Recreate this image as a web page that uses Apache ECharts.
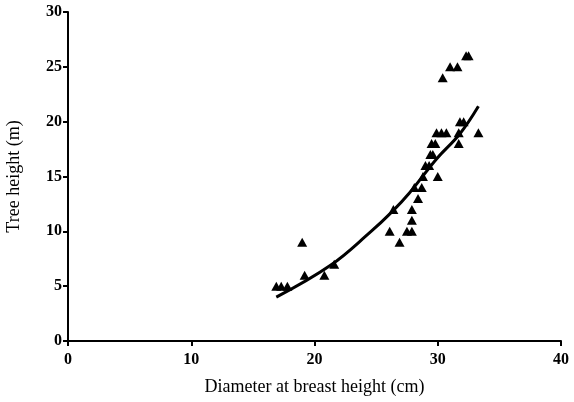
<!DOCTYPE html>
<html>
<head>
<meta charset="utf-8">
<script src="https://cdn.jsdelivr.net/npm/echarts@6/dist/echarts.min.js"></script>
<style>
  html, body { margin: 0; padding: 0; background: #fff; }
  #chart { width: 574px; height: 402px; }
</style>
</head>
<body>
<div id="chart"></div>
<script>
// measured trees: diameter (cm) and height (m)
var dbh = [16.9, 17.3, 17.8, 19.0, 19.2, 20.8, 21.6, 26.1, 26.9, 27.5, 27.9, 27.9, 27.9, 26.4, 28.4,
  28.1, 28.7, 28.8, 30.0, 29.0, 29.3, 29.4, 29.6, 29.5, 29.8, 29.9, 30.3, 30.7, 31.7, 31.7,
  31.8, 32.1, 33.3, 30.4, 31.0, 31.6, 32.3, 32.5];
var height = [5, 5, 5, 9, 6, 6, 7, 10, 9, 10, 10, 11, 12, 12, 13,
  14, 14, 15, 15, 16, 16, 17, 17, 18, 18, 19, 19, 19, 18, 19,
  20, 20, 19, 24, 25, 25, 26, 26];

// fitted curve
var fitX = [16.9, 21.3, 24.5, 26.3, 27.7, 29.9, 31.8, 33.3];
var fitY = [4.0, 6.9, 9.9, 11.8, 13.5, 16.6, 18.9, 21.4];

var xTicks = [0, 10, 20, 30, 40];
var yTicks = [0, 5, 10, 15, 20, 25, 30];

var chart = echarts.init(document.getElementById("chart"));

var font = "'Liberation Serif', 'DejaVu Serif', serif";

var option = {
  animation: false,
  grid: { left: 68, right: 13, top: 12, bottom: 61, outerBoundsMode: "none" },
  xAxis: {
    type: "value",
    min: xTicks[0],
    max: xTicks[xTicks.length - 1],
    interval: 10,
    name: "Diameter at breast height (cm)",
    nameLocation: "middle",
    nameGap: 37,
    nameTextStyle: { color: "#000", fontFamily: font, fontSize: 18 },
    axisLine: { show: true, lineStyle: { color: "#000", width: 2 } },
    axisTick: { show: true, length: 5, lineStyle: { color: "#000", width: 2 } },
    axisLabel: { color: "#000", fontFamily: font, fontSize: 16, fontWeight: "bold", margin: 11 },
    splitLine: { show: false }
  },
  yAxis: {
    type: "value",
    min: yTicks[0],
    max: yTicks[yTicks.length - 1],
    interval: 5,
    name: "Tree height (m)",
    nameLocation: "middle",
    nameGap: 45,
    nameTextStyle: { color: "#000", fontFamily: font, fontSize: 18 },
    axisLine: { show: true, lineStyle: { color: "#000", width: 2 } },
    axisTick: { show: true, length: 5, lineStyle: { color: "#000", width: 2 } },
    axisLabel: { color: "#000", fontFamily: font, fontSize: 16, fontWeight: "bold", margin: 6 },
    splitLine: { show: false }
  },
  series: [
    {
      type: "scatter",
      symbol: "triangle",
      symbolSize: [10, 9],
      itemStyle: { color: "#000", opacity: 1 },
      data: dbh.map(function (d, i) { return [d, height[i]]; })
    },
    {
      type: "line",
      smooth: 0.4,
      showSymbol: false,
      lineStyle: { color: "#000", width: 3 },
      data: fitX.map(function (d, i) { return [d, fitY[i]]; })
    }
  ]
};

chart.setOption(option);
</script>
</body>
</html>
